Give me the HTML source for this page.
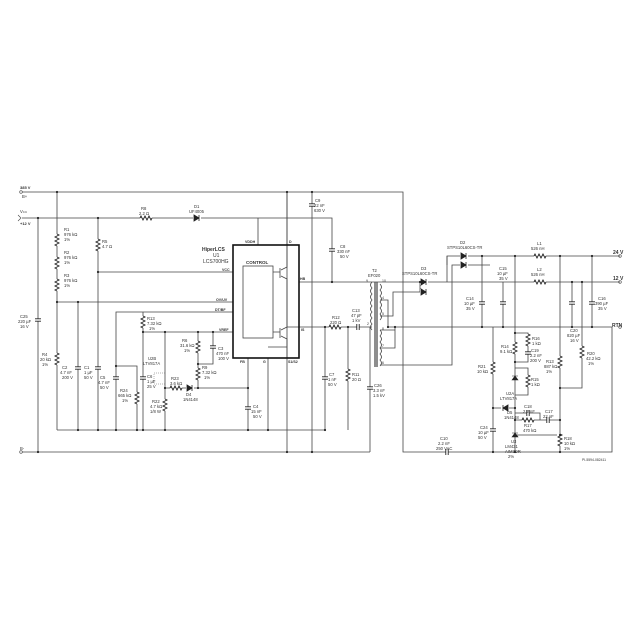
<!DOCTYPE html>
<html><head><meta charset="utf-8"><style>
html,body{margin:0;padding:0;background:#fff;width:640px;height:640px;overflow:hidden}
svg{display:block}
text{font-family:"Liberation Sans",sans-serif;fill:#333;font-size:4.2px}
.b{font-weight:bold;font-size:5px}
</style></head><body>
<svg width="640" height="640" viewBox="0 0 640 640" xmlns="http://www.w3.org/2000/svg">
<defs>
<g id="rv"><rect x="-3" y="-6" width="6" height="12" fill="#fff"/><path d="M0 -6 l2 1 -4 2 4 2 -4 2 4 2 -4 2 2 1" fill="none" stroke="#222" stroke-width="0.9"/></g>
<g id="rh"><rect x="-6" y="-3" width="12" height="6" fill="#fff"/><path d="M-6 0 l1 -2 2 4 2 -4 2 4 2 -4 2 4 1 -2" fill="none" stroke="#222" stroke-width="0.9"/></g>
<g id="cv"><rect x="-4" y="-1.2" width="8" height="2.4" fill="#fff"/><path d="M-3 -1.2 h6 M-3 1.2 h6" stroke="#222" stroke-width="0.9"/></g>
<g id="ch"><rect x="-1.2" y="-4" width="2.4" height="8" fill="#fff"/><path d="M-1.2 -3 v6 M1.2 -3 v6" stroke="#222" stroke-width="0.9"/></g>
<g id="dr"><rect x="-4" y="-3" width="8" height="6" fill="#fff"/><path d="M-3 -3 v6 l5 -3 z M2 -3 v6" fill="#222" stroke="#222" stroke-width="0.8"/></g>
<g id="dl"><rect x="-4" y="-3" width="8" height="6" fill="#fff"/><path d="M3 -3 v6 l-5 -3 z M-2 -3 v6" fill="#222" stroke="#222" stroke-width="0.8"/></g>
<circle id="d" r="1.1" fill="#222"/>
</defs>
<g stroke="#444" stroke-width="0.8" fill="none">
<!-- rails -->
<path d="M22 192 H403 V452 H612 V327"/>
<path d="M22 218 H332 V282"/>
<path d="M22 452 H370"/>
<path d="M57 430 H325"/>
<path d="M38 218 V452"/>
<path d="M57 192 V430"/>
<path d="M98 218 V430"/>
<path d="M57 302 H233"/>
<path d="M98 272 H233"/>
<path d="M116 430 V312 H233"/>
<path d="M78 302 V430"/>
<path d="M143 312 V430"/>
<path d="M143 332 H233"/>
<path d="M165 332 V430"/>
<path d="M198 332 V388"/>
<path d="M213 332 V364 H198"/>
<path d="M165 388 H248"/>
<path d="M248 358 V430"/>
<path d="M268 358 V430"/>
<path d="M116 366 H137 V430"/>
<path d="M258 218 V245"/>
<path d="M287 192 V452"/>
<path d="M299 282 H620"/>
<path d="M299 327 H372"/>
<path d="M312 192 V452"/>
<path d="M325 327 V430"/>
<path d="M348 327 V430"/>
<path d="M370 327 V452"/>
<!-- chip -->
<rect x="243" y="266" width="30" height="72"/>
<path d="M273 272 H280 M280 268 V278 M281 270 l6 -3 V192 M281 276 l6 3 V282 M273 332 H280 M280 328 V338 M281 330 l6 -3 V282 M281 336 l6 3 V347 M268 347 H287 M287 347 V358 M287 327 H299"/>
<!-- transformer -->
<path d="M375 282 V367 M377 282 V367" stroke-width="1.2"/>
<path d="M372 282 q-3 3 0 6 q-3 3 0 6 q-3 3 0 6 q-3 3 0 6 q-3 3 0 6 q-3 3 0 6 q-3 3 0 6 q-3 3 0 6"/>
<path d="M380 284 q3 3 0 6 q3 3 0 6 q3 3 0 6 q3 3 0 6 q3 3 0 6 q3 3 0 6 M380 330 q3 3 0 6 q3 3 0 6 q3 3 0 6 q3 3 0 6 q3 3 0 6 q3 3 0 6"/>
<path d="M380 300 H388 V327 H612"/>
<path d="M380 316 H393 V292 H420"/>
<path d="M380 330 H395 M380 348 H395 V327"/>
<path d="M380 365 H452 V265 H490"/>
<path d="M420 282 V292 M447 282 V256 H620"/>
<path d="M447 265 V256"/>
<!-- right section -->
<path d="M482 256 V327 M503 282 V327 M515 256 V452 M560 256 V388 M572 282 V327 M592 256 V327 M582 282 V388 H560 M560 388 V452"/>
<path d="M493 327 V452"/>
<path d="M515 333 H528 V362 H515 M515 368 H528 V395 H515"/>
<path d="M493 408 H515 M515 413 H540 V420 M515 420 H560 M515 435 H560"/>
</g>
<!-- components -->
<use href="#rh" x="146" y="218"/><use href="#dr" x="197" y="218"/>
<use href="#rv" x="57" y="240"/><use href="#rv" x="57" y="263"/><use href="#rv" x="57" y="285"/><use href="#rv" x="57" y="359"/>
<use href="#rv" x="98" y="245"/>
<use href="#cv" x="38" y="320"/>
<use href="#cv" x="78" y="368"/><use href="#cv" x="98" y="368"/><use href="#cv" x="116" y="378"/>
<use href="#rv" x="137" y="398"/>
<use href="#rv" x="143" y="322"/><use href="#cv" x="143" y="378"/>
<use href="#rv" x="165" y="405"/>
<use href="#rv" x="198" y="347"/><use href="#rv" x="198" y="374"/>
<use href="#cv" x="213" y="347"/>
<use href="#rh" x="176" y="388"/><use href="#dr" x="190" y="388"/>
<use href="#cv" x="248" y="408"/>
<use href="#cv" x="312" y="205"/><use href="#cv" x="332" y="250"/>
<use href="#rh" x="335" y="327"/><use href="#ch" x="358" y="327"/>
<use href="#cv" x="325" y="378"/><use href="#rv" x="348" y="375"/>
<use href="#cv" x="370" y="388"/>
<use href="#dr" x="424" y="282"/><use href="#dr" x="424" y="292"/>
<use href="#dr" x="464" y="256"/><use href="#dr" x="464" y="265"/>
<use href="#rh" x="540" y="256"/><use href="#rh" x="540" y="282"/>
<use href="#cv" x="482" y="303"/><use href="#cv" x="503" y="303"/><use href="#cv" x="572" y="303"/><use href="#cv" x="592" y="303"/>
<use href="#rv" x="493" y="368"/><use href="#cv" x="493" y="430"/>
<use href="#rv" x="515" y="348"/><use href="#rv" x="528" y="340"/><use href="#cv" x="528" y="353"/>
<use href="#rv" x="528" y="381"/><use href="#dl" x="505" y="408"/>
<use href="#ch" x="528" y="413"/><use href="#rh" x="528" y="420"/><use href="#ch" x="548" y="420"/>
<use href="#rv" x="560" y="362"/><use href="#rv" x="560" y="440"/><use href="#rv" x="582" y="352"/>
<use href="#ch" x="447" y="452"/>
<path d="M512 380 l3 -4 3 4 z M512 376 h6 M512 437 l3 -4 3 4 z M512 433 h6" fill="#222" stroke="#222" stroke-width="0.6"/>
<rect x="154" y="373" width="11" height="11" fill="none" stroke="#666" stroke-width="0.5" stroke-dasharray="1,1"/>
<rect x="233" y="245" width="66" height="113" fill="none" stroke="#111" stroke-width="1.6"/>
<g>
<use href="#d" x="57" y="192"/><use href="#d" x="287" y="192"/><use href="#d" x="312" y="192"/>
<use href="#d" x="38" y="218"/><use href="#d" x="98" y="218"/><use href="#d" x="38" y="452"/><use href="#d" x="287" y="452"/><use href="#d" x="312" y="452"/>
<use href="#d" x="57" y="302"/><use href="#d" x="78" y="302"/><use href="#d" x="98" y="272"/><use href="#d" x="143" y="332"/><use href="#d" x="165" y="332"/><use href="#d" x="198" y="332"/><use href="#d" x="213" y="332"/>
<use href="#d" x="165" y="388"/><use href="#d" x="198" y="388"/><use href="#d" x="248" y="388"/><use href="#d" x="198" y="364"/>
<use href="#d" x="78" y="430"/><use href="#d" x="98" y="430"/><use href="#d" x="116" y="430"/><use href="#d" x="137" y="430"/><use href="#d" x="143" y="430"/><use href="#d" x="165" y="430"/><use href="#d" x="248" y="430"/><use href="#d" x="268" y="430"/><use href="#d" x="325" y="430"/><use href="#d" x="116" y="366"/>
<use href="#d" x="332" y="282"/><use href="#d" x="325" y="327"/><use href="#d" x="348" y="327"/>
<use href="#d" x="482" y="256"/><use href="#d" x="515" y="256"/><use href="#d" x="560" y="256"/><use href="#d" x="592" y="256"/>
<use href="#d" x="572" y="282"/><use href="#d" x="582" y="282"/><use href="#d" x="420" y="282"/>
<use href="#d" x="482" y="327"/><use href="#d" x="503" y="327"/><use href="#d" x="572" y="327"/><use href="#d" x="592" y="327"/><use href="#d" x="388" y="327"/><use href="#d" x="395" y="327"/>
<use href="#d" x="515" y="333"/><use href="#d" x="515" y="362"/><use href="#d" x="515" y="408"/><use href="#d" x="515" y="420"/><use href="#d" x="560" y="420"/><use href="#d" x="560" y="435"/><use href="#d" x="493" y="408"/><use href="#d" x="560" y="388"/>
<use href="#d" x="493" y="452"/><use href="#d" x="515" y="452"/><use href="#d" x="560" y="452"/>
</g>
<!-- labels -->
<text x="20" y="189" class="b" style="font-size:4px">385 V</text><text x="22" y="198">B+</text>
<text x="20" y="213">V<tspan font-size="3">CC</tspan></text><text x="20" y="225" class="b" style="font-size:4px">+12 V</text>
<text x="20" y="450">B-</text>
<text x="141" y="210">R8</text><text x="139" y="215">2.2 Ω</text>
<text x="194" y="208">D1</text><text x="189" y="213">UF4005</text>
<text x="64" y="231">R1</text><text x="64" y="236">976 kΩ</text><text x="64" y="241">1%</text>
<text x="64" y="254">R2</text><text x="64" y="259">976 kΩ</text><text x="64" y="264">1%</text>
<text x="64" y="277">R3</text><text x="64" y="282">976 kΩ</text><text x="64" y="287">1%</text>
<text x="102" y="243">R5</text><text x="102" y="248">4.7 Ω</text>
<text x="20" y="318">C25</text><text x="18" y="323">220 µF</text><text x="20" y="328">16 V</text>
<text x="42" y="356">R4</text><text x="40" y="361">20 kΩ</text><text x="42" y="366">1%</text>
<text x="62" y="369">C2</text><text x="60" y="374">4.7 nF</text><text x="62" y="379">200 V</text>
<text x="84" y="369">C1</text><text x="84" y="374">1 µF</text><text x="84" y="379">50 V</text>
<text x="100" y="379">C5</text><text x="98" y="384">4.7 nF</text><text x="100" y="389">50 V</text>
<text x="120" y="392">R24</text><text x="118" y="397">665 kΩ</text><text x="122" y="402">1%</text>
<text x="147" y="320">R13</text><text x="147" y="325">7.32 kΩ</text><text x="149" y="330">1%</text>
<text x="147" y="378">C6</text><text x="147" y="383">1 µF</text><text x="147" y="388">25 V</text>
<text x="148" y="360">U2B</text><text x="143" y="365">LTV817A</text>
<text x="152" y="403">R22</text><text x="150" y="408">4.7 kΩ</text><text x="150" y="413">1/8 W</text>
<text x="182" y="342">R6</text><text x="180" y="347">31.6 kΩ</text><text x="184" y="352">1%</text>
<text x="202" y="369">R9</text><text x="202" y="374">7.32 kΩ</text><text x="204" y="379">1%</text>
<text x="218" y="350">C3</text><text x="216" y="355">470 nF</text><text x="218" y="360">100 V</text>
<text x="171" y="380">R23</text><text x="170" y="385">3.6 kΩ</text>
<text x="186" y="396">D4</text><text x="183" y="401">1N4148</text>
<text x="253" y="408">C4</text><text x="251" y="413">15 nF</text><text x="253" y="418">50 V</text>
<text x="202" y="251" class="b">HiperLCS</text><text x="213" y="257" style="font-size:5px">U1</text><text x="203" y="263" style="font-size:5px">LCS700HG</text>
<text x="246" y="264" class="b" style="font-size:4.5px">CONTROL</text>
<text x="245" y="243" class="b" style="font-size:3.6px">VDDH</text><text x="289" y="243" class="b" style="font-size:3.6px">D</text>
<text x="222" y="271" class="b" style="font-size:3.6px">VCC</text><text x="216" y="301" class="b" style="font-size:3.6px">OV/UV</text><text x="215" y="311" class="b" style="font-size:3.6px">DT/BF</text><text x="219" y="331" class="b" style="font-size:3.6px">VREF</text>
<text x="300" y="280" class="b" style="font-size:3.6px">HB</text><text x="301" y="331" class="b" style="font-size:3.6px">IS</text>
<text x="240" y="363" class="b" style="font-size:3.6px">FB</text><text x="263" y="363" class="b" style="font-size:3.6px">G</text><text x="288" y="363" class="b" style="font-size:3.6px">S1/S2</text>
<text x="315" y="202">C9</text><text x="314" y="207">22 nF</text><text x="314" y="212">630 V</text>
<text x="340" y="248">C8</text><text x="337" y="253">330 nF</text><text x="340" y="258">50 V</text>
<text x="332" y="319">R12</text><text x="330" y="324">220 Ω</text>
<text x="352" y="312">C13</text><text x="351" y="317">47 pF</text><text x="352" y="322">1 kV</text>
<text x="329" y="376">C7</text><text x="328" y="381">1 nF</text><text x="328" y="386">50 V</text>
<text x="352" y="376">R11</text><text x="352" y="381">20 Ω</text>
<text x="374" y="387">C26</text><text x="373" y="392">3.3 nF</text><text x="373" y="397">1.5 kV</text>
<text x="372" y="272">T2</text><text x="368" y="277">EF020</text>
<text x="366" y="282" style="font-size:3.5px">9</text><text x="382" y="282" style="font-size:3.5px">10</text><text x="367" y="325" style="font-size:3.5px">2</text>
<text x="382" y="299" style="font-size:3.5px">4</text><text x="382" y="315" style="font-size:3.5px">5</text><text x="382" y="330" style="font-size:3.5px">8</text><text x="382" y="347" style="font-size:3.5px">7</text><text x="382" y="364" style="font-size:3.5px">6</text>
<text x="421" y="270">D3</text><text x="402" y="275">STPS10L60CS-TR</text>
<text x="460" y="244">D2</text><text x="447" y="249">STPS10L60CS-TR</text>
<text x="537" y="245">L1</text><text x="531" y="250">526 nH</text>
<text x="537" y="271">L2</text><text x="531" y="276">526 nH</text>
<text x="613" y="254" class="b">24 V</text><text x="613" y="280" class="b">12 V</text><text x="612" y="327" class="b">RTN</text>
<text x="499" y="270">C15</text><text x="497" y="275">10 µF</text><text x="499" y="280">35 V</text>
<text x="466" y="300">C14</text><text x="464" y="305">10 µF</text><text x="466" y="310">35 V</text>
<text x="570" y="332">C20</text><text x="567" y="337">820 µF</text><text x="570" y="342">16 V</text>
<text x="598" y="300">C16</text><text x="595" y="305">390 µF</text><text x="598" y="310">35 V</text>
<text x="501" y="348">R14</text><text x="500" y="353">9.1 kΩ</text>
<text x="532" y="340">R16</text><text x="532" y="345">1 kΩ</text>
<text x="531" y="352">C19</text><text x="530" y="357">2.2 nF</text><text x="530" y="362">200 V</text>
<text x="478" y="368">R21</text><text x="477" y="373">10 kΩ</text>
<text x="546" y="363">R13</text><text x="544" y="368">887 kΩ</text><text x="546" y="373">1%</text>
<text x="587" y="355">R20</text><text x="586" y="360">42.2 kΩ</text><text x="588" y="365">1%</text>
<text x="531" y="381">R15</text><text x="531" y="386">1 kΩ</text>
<text x="506" y="395">U2A</text><text x="500" y="400">LTV817A</text>
<text x="507" y="414">D5</text><text x="504" y="419">1N4148</text>
<text x="524" y="408">C18</text><text x="523" y="413">2.2 nF</text>
<text x="545" y="413">C17</text><text x="543" y="418">22 nF</text>
<text x="524" y="427">R17</text><text x="523" y="432">470 kΩ</text>
<text x="480" y="429">C24</text><text x="478" y="434">10 µF</text><text x="478" y="439">50 V</text>
<text x="511" y="443">U3</text><text x="505" y="448">LM431</text><text x="505" y="453">AIM3DR</text><text x="508" y="458">2%</text>
<text x="564" y="440">R18</text><text x="564" y="445">10 kΩ</text><text x="564" y="450">1%</text>
<text x="440" y="440">C10</text><text x="438" y="445">2.2 nF</text><text x="436" y="450">250 VAC</text>
<text x="582" y="461" style="font-size:3.4px">PI-5594-082411</text>
<g fill="none" stroke="#444" stroke-width="0.6"><circle cx="21" cy="192" r="1.3"/><circle cx="620" cy="256" r="1.3"/><circle cx="620" cy="282" r="1.3"/><circle cx="620" cy="327" r="1.3"/><circle cx="21" cy="452" r="1.3"/><path d="M18 215 l3 3 -3 3"/></g>
</svg>
</body></html>
